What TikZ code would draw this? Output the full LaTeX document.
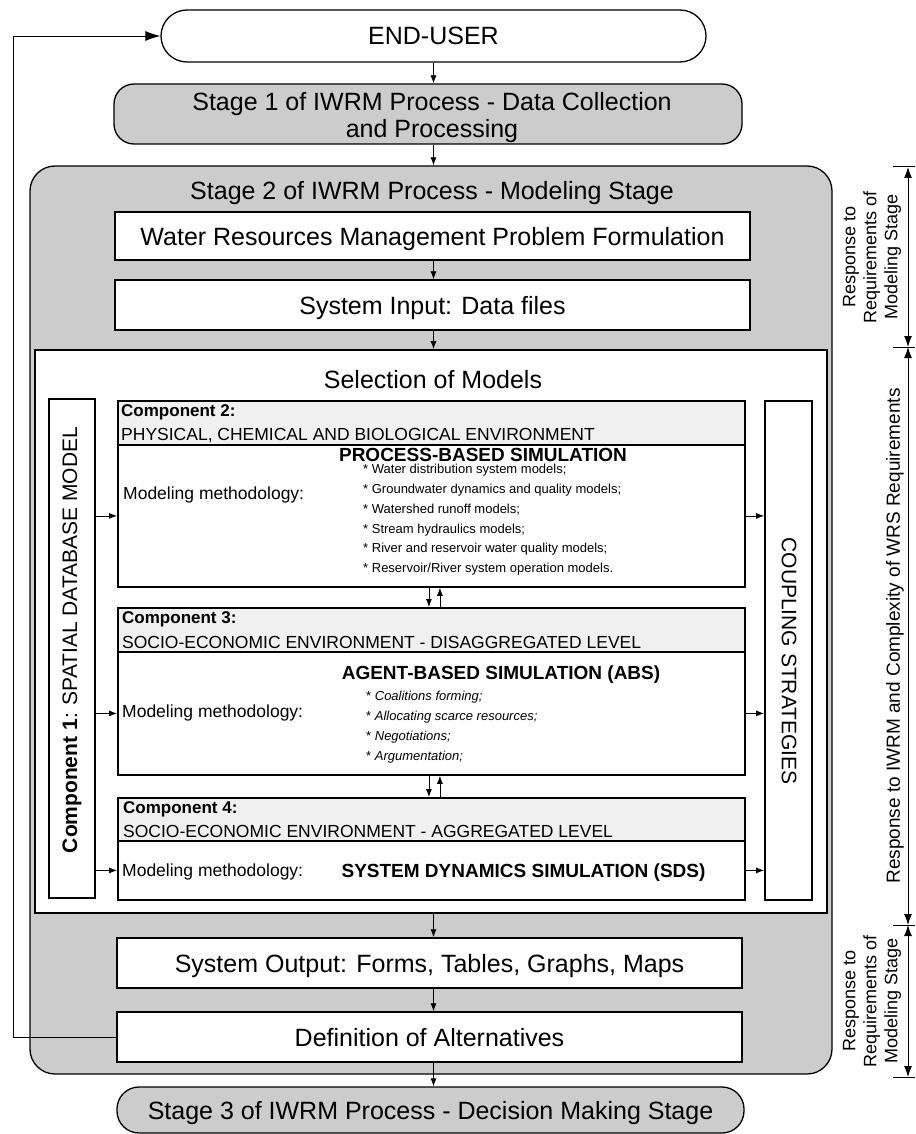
\documentclass[tikz,border=0pt]{standalone}
\usepackage{fontspec}
\setmainfont{Liberation Sans}
\usepackage{tikz}
\usetikzlibrary{positioning, arrows.meta}
\definecolor{stagegray}{RGB}{204,204,204}
\definecolor{headgray}{RGB}{240,240,240}
\tikzstyle{stage} = [draw, fill=stagegray, line width=1.3pt, font=\fontsize{25}{27}\selectfont]
\tikzstyle{plain} = [draw, fill=white, line width=1.5pt, text height=18pt, text depth=0pt, font=\fontsize{25}{30}\selectfont]
\tikzstyle{bigtext} = [text height=18pt, text depth=0pt, font=\fontsize{25}{30}\selectfont]
\tikzstyle{comp} = [draw, fill=white, line width=1.8pt, inner sep=0pt, anchor=north west, minimum width=627pt]
\tikzstyle{head} = [draw, fill=headgray, line width=1.8pt, inner sep=0pt, anchor=north west, minimum width=627pt]
\tikzstyle{vbox} = [draw, fill=white, line width=1.8pt, inner sep=0pt, minimum width=46pt, minimum height=499pt]
\tikzstyle{ctitle} = [anchor=base west, inner sep=0pt, font=\fontsize{17}{20}\selectfont\bfseries]
\tikzstyle{cname} = [anchor=base west, inner sep=0pt, font=\fontsize{17.5}{20}\selectfont]
\tikzstyle{simtitle} = [anchor=base, inner sep=0pt, font=\fontsize{19}{22}\selectfont\bfseries]
\tikzstyle{listtext} = [anchor=base west, inner sep=0pt, font=\fontsize{13}{15}\selectfont]
\tikzstyle{dimtext} = [align=center, rotate=90, font=\fontsize{18}{21}\selectfont]
\tikzstyle{flow} = [-{Latex[length=8pt,width=6pt]}, line width=0.8pt]
\tikzstyle{dim} = [{Latex[length=11pt,width=8pt]}-{Latex[length=11pt,width=8pt]}, line width=1pt]

\begin{document}
\begin{tikzpicture}[x=1pt, y=-1pt]
\useasboundingbox (0,0) rectangle (915,1134);
\node[draw, fill=white, line width=1.3pt, rounded corners=26pt, minimum width=545pt, minimum height=52pt, bigtext] (enduser) at (433.5,36) {END-USER};
\node[stage, rounded corners=20pt, minimum width=628pt, minimum height=60pt] (stage1) at (428,114) {};
\node[align=center, anchor=north, inner sep=0pt, font=\fontsize{25}{27}\selectfont] (stage1text) at (432,92) {Stage 1 of IWRM Process - Data Collection\\and Processing};
\node[stage, rounded corners=25pt, minimum width=802pt, minimum height=908pt] (stage2) at (431,620) {};
\node[bigtext] (s2title) at (432,191) {Stage 2 of IWRM Process - Modeling Stage};
\node[plain, minimum width=635pt, minimum height=48pt] (water) at (432.5,236) {Water Resources Management Problem Formulation};
\node[plain, minimum width=635pt, minimum height=50pt] (input) at (432.5,305) {System Input: Data files};
\node[draw, fill=white, line width=1.8pt, minimum width=792pt, minimum height=563pt] (selection) at (431,631.5) {};
\node[bigtext] (seltitle) at (433,379) {Selection of Models};

\node[vbox] (comp1) at (72,648.5) {};
\node[rotate=90, font=\fontsize{21}{24}\selectfont] (comp1text) at (72,640) {\textbf{Component 1}: SPATIAL DATABASE MODEL};
\node[vbox, minimum width=47pt] (coupling) at (788.5,650.5) {};
\node[rotate=-90, font=\fontsize{21}{24}\selectfont] (couplingtext) at (789,661) {COUPLING STRATEGIES};

\node[comp, minimum height=142pt] (comp2b) at (117,444) {};
\node[head, minimum height=44pt] (comp2h) at (117,400) {};
\node[ctitle] (c2title) at (121,416) {Component 2:};
\node[cname] (c2name) at (121,440) {PHYSICAL, CHEMICAL AND BIOLOGICAL ENVIRONMENT};
\node[cname] (c2method) at (123,499) {Modeling methodology:};
\node[simtitle] (c2sim) at (483,461) {PROCESS-BASED SIMULATION};
\foreach \txt [count=\i] in {{Water distribution system models;}, {Groundwater dynamics and quality models;}, {Watershed runoff models;}, {Stream hydraulics models;}, {River and reservoir water quality models;}, {Reservoir/River system operation models.}}
  \node[listtext] (p\i) at (363, {454.2+19.7*\i}) {* \txt};

\node[comp, minimum height=123pt] (comp3b) at (117,651) {};
\node[head, minimum height=44pt] (comp3h) at (117,607) {};
\node[ctitle] (c3title) at (122,623) {Component 3:};
\node[cname] (c3name) at (122,648) {SOCIO-ECONOMIC ENVIRONMENT - DISAGGREGATED LEVEL};
\node[cname] (c3method) at (122,717) {Modeling methodology:};
\node[simtitle] (c3sim) at (501,679) {AGENT-BASED SIMULATION (ABS)};
\foreach \txt [count=\i] in {{Coalitions forming;}, {Allocating scarce resources;}, {Negotiations;}, {Argumentation;}}
  \node[listtext] (a\i) at (366, {680+20*\i}) {* \textit{\txt}};

\node[comp, minimum height=59pt] (comp4b) at (117,840) {};
\node[head, minimum height=43pt] (comp4h) at (117,797) {};
\node[ctitle] (c4title) at (123,813) {Component 4:};
\node[cname] (c4name) at (123,837) {SOCIO-ECONOMIC ENVIRONMENT - AGGREGATED LEVEL};
\node[cname] (c4method) at (122,876) {Modeling methodology:};
\node[simtitle] (c4sim) at (523.5,877) {SYSTEM DYNAMICS SIMULATION (SDS)};

\node[plain, minimum width=625pt, minimum height=50pt] (output) at (429.5,963) {System Output: Forms, Tables, Graphs, Maps};
\node[plain, minimum width=625pt, minimum height=50pt] (alt) at (429.5,1037) {Definition of Alternatives};
\node[stage, rounded corners=22pt, minimum width=627pt, minimum height=46pt, text height=18pt, text depth=0pt] (stage3) at (430.5,1110) {Stage 3 of IWRM Process - Decision Making Stage};

\draw[flow] (enduser.south) -- (enduser.south |- stage1.north);
\draw[flow] (enduser.south |- stage1.south) -- (enduser.south |- stage2.north);
\draw[flow] (enduser.south |- water.south) -- (enduser.south |- input.north);
\draw[flow] (enduser.south |- input.south) -- (enduser.south |- selection.north);
\draw[flow] (enduser.south |- selection.south) -- (enduser.south |- output.north);
\draw[flow] (enduser.south |- output.south) -- (enduser.south |- alt.north);
\draw[flow] (enduser.south |- alt.south) -- (enduser.south |- stage3.north);
\coordinate (loop) at (13,1037);
\draw[-{Latex[length=15pt,width=10pt]}, line width=0.9pt] (alt.west) -- (loop) |- (enduser.west);

\draw[flow] (comp1.east |- comp2b.west) -- (comp2b.west);
\draw[flow] (comp1.east |- comp3b.west) -- (comp3b.west);
\draw[flow] (comp1.east |- comp4b.west) -- (comp4b.west);
\draw[flow] (comp2b.east) -- (comp2b.east -| coupling.west);
\draw[flow] (comp3b.east) -- (comp3b.east -| coupling.west);
\draw[flow] (comp4b.east) -- (comp4b.east -| coupling.west);
\draw[flow] ([xshift=-2.5pt]comp2b.south) -- ([xshift=-2.5pt]comp2b.south |- comp3h.north);
\draw[flow] ([xshift=8.5pt]comp3h.north) -- ([xshift=8.5pt]comp3h.north |- comp2b.south);
\draw[flow] ([xshift=-2.5pt]comp3b.south) -- ([xshift=-2.5pt]comp3b.south |- comp4h.north);
\draw[flow] ([xshift=8.5pt]comp4h.north) -- ([xshift=8.5pt]comp4h.north |- comp3b.south);

\coordinate (d1) at (908,167);
\coordinate (d2) at (908,347);
\coordinate (d3) at (908,925);
\coordinate (d4) at (908,1077);
\foreach \d in {d1,d2,d3,d4}
  \draw[line width=1pt] ([xshift=-15pt]\d) -- ([xshift=7pt]\d);
\draw[dim] (d1) -- (d2);
\draw[dim] (d2) -- (d3);
\draw[dim] (d3) -- (d4);
\node[dimtext] (r1) at (872,257) {Response to\\Requirements of\\Modeling Stage};
\node[dimtext, font=\fontsize{19}{22}\selectfont] (r2) at (895,636) {Response to IWRM and Complexity of WRS Requirements};
\node[dimtext] (r3) at (872,1001) {Response to\\Requirements of\\Modeling Stage};
\end{tikzpicture}
\end{document}
